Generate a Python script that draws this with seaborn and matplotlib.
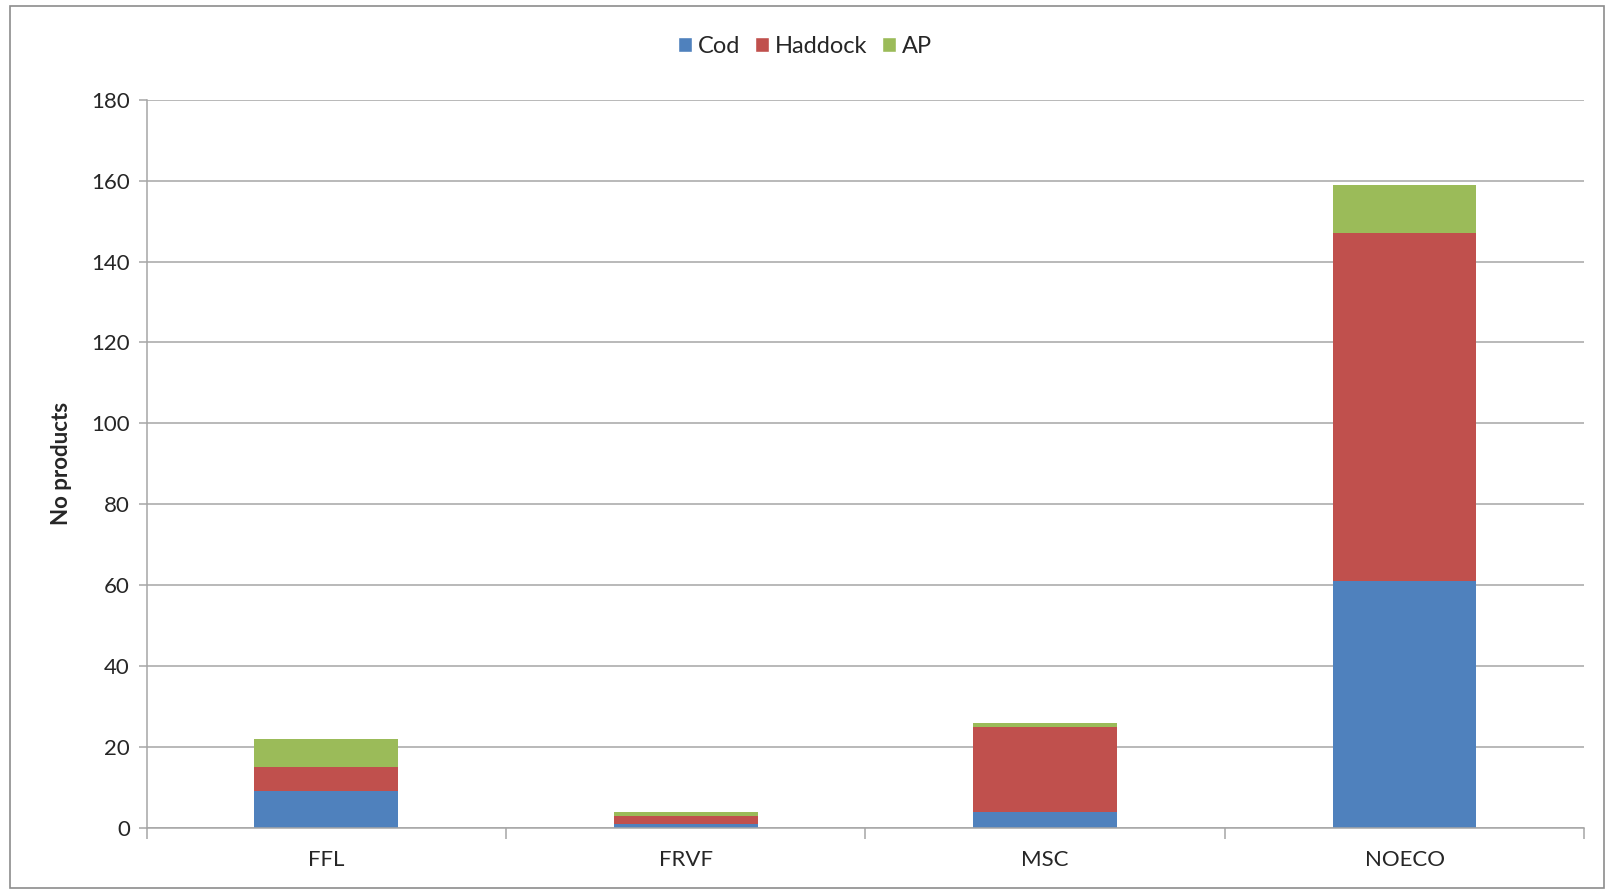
import numpy as np
import pandas as pd
import matplotlib
matplotlib.use("Agg")
import matplotlib.pyplot as plt
import seaborn as sns
from matplotlib.patches import Patch, Rectangle

categories = ["FFL", "FRVF", "MSC", "NOECO"]
cod = [9, 1, 4, 61]
haddock = [6, 2, 21, 86]
ap = [7, 1, 1, 12]

series_names = ["Cod", "Haddock", "AP"]
colors = ["#4F81BD", "#C0504D", "#9BBB59"]

sns.set_theme(style="white")
plt.rcParams["font.family"] = ["Lato", "DejaVu Sans"]

df = pd.DataFrame({"cat": categories, "Cod": cod, "Haddock": haddock, "AP": ap})
df["c1"] = df["Cod"]
df["c2"] = df["Cod"] + df["Haddock"]
df["c3"] = df["c2"] + df["AP"]

fig = plt.figure(figsize=(16.1, 8.91), dpi=100)
ax = fig.add_axes([0.091, 0.071, 0.893, 0.817])

# stacked bars: draw the cumulative tops first, lower layers over them
for col, color in zip(["c3", "c2", "c1"], colors[::-1]):
    sns.barplot(data=df, x="cat", y=col, color=color, width=0.4,
                saturation=1, ax=ax, edgecolor="none", linewidth=0)

ax.set_ylim(0, 180)
ax.set_yticks(range(0, 181, 20))
ax.set_xlim(-0.5, len(categories) - 0.5)
ax.yaxis.grid(True, color="#A6A6A6", linewidth=1.1)
ax.set_axisbelow(True)
ax.set_xlabel("")
ax.set_ylabel("No products", fontsize=16, fontweight="bold", labelpad=14)

for s in ["top", "right"]:
    ax.spines[s].set_visible(False)
for s in ["left", "bottom"]:
    ax.spines[s].set_color("#A6A6A6")
    ax.spines[s].set_linewidth(1.1)

ax.tick_params(axis="y", labelsize=16, colors="#A6A6A6", labelcolor="#262626",
               left=True, length=6, width=1.1, pad=6)
ax.tick_params(axis="x", labelsize=16, labelcolor="#262626", bottom=False, pad=10)
# category boundary ticks
ax.set_xticks(np.arange(-0.5, len(categories), 1.0), minor=True)
ax.tick_params(axis="x", which="minor", bottom=True, length=8, width=1.1,
               color="#A6A6A6")

handles = [Patch(facecolor=c, label=n) for c, n in zip(colors, series_names)]
fig.legend(handles=handles, loc="center", bbox_to_anchor=(0.5, 0.948), ncol=3,
           frameon=False, fontsize=17, handlelength=0.6, handleheight=0.6,
           handletextpad=0.25, columnspacing=0.6)

fig.patches.append(Rectangle((0.006, 0.003), 0.99, 0.99, transform=fig.transFigure,
                             fill=False, edgecolor="#8C8C8C", linewidth=1.2))

fig.savefig("out.png", dpi=100)
